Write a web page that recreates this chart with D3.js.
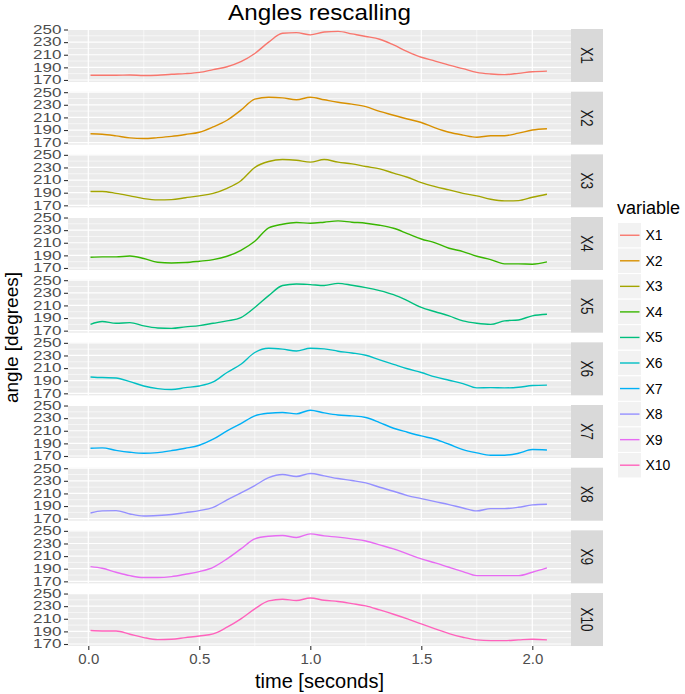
<!DOCTYPE html>
<html><head><meta charset="utf-8">
<script src="https://cdn.jsdelivr.net/npm/d3@7"></script>
<style>body{margin:0;background:#fff;}svg{display:block;font-family:"Liberation Sans",Arial,sans-serif;}</style>
</head><body>
<script>
const times = [0.01,0.0625,0.125,0.1875,0.25,0.3125,0.375,0.4375,0.5,0.5625,0.625,0.6875,0.75,0.8125,0.875,0.9375,1.0,1.0625,1.125,1.1875,1.25,1.3125,1.375,1.4375,1.5,1.5625,1.625,1.6875,1.75,1.8125,1.875,1.9375,2.0,2.066];
const X1 = [177.5,177.5,177.5,178,177,177.5,179,180,182,186.5,191,199,212,230,244,245,241.5,246,247,243,239,234.5,225.5,215,206,200,193.5,188,182,179.5,178.5,180.5,183,184];
const X2 = [184,183.3,180.7,177.5,176.5,178,180,183,186.5,195,205.5,221.5,239,242,241,238,242,238,234,231,227,219.5,213.5,207.5,202,193.5,186.5,182,178.5,181,181,185,190,192];
const X3 = [191.8,192,189,185,180.7,178.6,179,182,185,189,197,209,230,239.4,242.6,241.5,238.4,242.6,238.4,235.7,231.5,227.8,221,214.5,206,199.7,194.4,189,185,179.6,177,177.5,182.8,187.6];
const X4 = [187,187.6,187.6,189,185,179,178,178.6,180.7,183.3,188.6,198,212.4,233.6,239.4,242,241,242.6,244.7,242.6,241,237.8,233,224.6,216,209.8,201.3,196,188.6,183.3,176.5,176.5,176,179.6];
const X5 = [180,184.4,181.7,182.8,177.5,174.3,173.7,176,178,181.7,185.5,190.8,206.8,225.5,241.5,244,243,241.5,245,242,238.3,233.5,227,217.5,206.8,200,193.5,185.5,181.7,180,185.5,187,193.5,196];
const X6 = [196,195,194.4,188.6,181.7,177.5,176,179,181.7,188,203,216,234.7,241.5,240,237,241.5,240.5,236.8,234,230.4,223,216,209,203,196,190.7,185.5,178.6,179,178.6,179.6,182.3,183];
const X7 = [182.3,182.8,179,176,174.3,175.4,178.6,182.3,187,196.6,209.8,221.4,233.6,237.8,239,236.8,242.6,238.4,235,233.6,231,223,214,207.7,201.8,196.6,188.6,180.2,175,171.2,171.2,174.3,180.2,179.6];
const X8 = [179,182.3,182.8,177.5,174.3,175,176.5,179.6,182.8,188,199.7,210.8,222.5,235,240,236.8,241.5,237.8,233.6,230.4,226.7,219.8,213.5,206.6,201.8,197,192.3,187,182.3,186,186,188,191.8,192.8];
const X9 = [193.4,190.7,184.4,179,176,176,177.5,181.2,185.5,192.3,205.6,221.4,237.3,241.5,242.6,239.4,245.2,242,240,237.3,234,227.8,221.4,213.5,205.6,199.2,192.3,185.5,179,179,179,179,184.4,191.3];
const X10 = [191.3,190.7,190.7,185.5,180.2,177,177.5,180.2,182.8,186,196.6,209.8,225.7,238.4,241,239,243,239.4,237.3,234,230.4,224,217.2,209.8,201.8,194,186.5,180.7,176.5,175.4,175.4,176.5,177.5,176.5];
const seriesNames = ["X1","X2","X3","X4","X5","X6","X7","X8","X9","X10"];
const seriesValues = [X1,X2,X3,X4,X5,X6,X7,X8,X9,X10];
const colors = ["#F8766D","#D89000","#A3A500","#39B600","#00BF7D","#00BFC4","#00B0F6","#9590FF","#E76BF3","#FF62BC"];
const yTicks = [170,190,210,230,250];
const yMinor = [180,200,220,240];
const xTicks = [0,0.5,1.0,1.5,2.0];
const xMinor = [0.25,0.75,1.25,1.75];
const xTickLabels = ["0.0","0.5","1.0","1.5","2.0"];

const W = 685, H = 694;
const left = 68, right = 571, stripW = 32;
const top0 = 29, panelH = 53, pitch = 62.67;
const svg = d3.select("body").append("svg").attr("width", W).attr("height", H);

const x = d3.scaleLinear().domain([-0.0914, 2.1743]).range([left, right]);
const y = d3.scaleLinear().domain([166.8, 250.8]).range([panelH, 0]);
const line = d3.line().x((d,i)=>x(times[i])).y(d=>y(d)).curve(d3.curveMonotoneX);

seriesNames.forEach((name, k) => {
  const g = svg.append("g").attr("transform", `translate(0,${top0 + k*pitch})`);
  g.append("rect").attr("x", left).attr("y", 0).attr("width", right-left).attr("height", panelH).attr("fill", "#EBEBEB");
  g.selectAll(".ym").data(yMinor).join("line").attr("x1", left).attr("x2", right).attr("y1", d=>y(d)).attr("y2", d=>y(d)).attr("stroke","#fff").attr("stroke-width",0.6);
  g.selectAll(".xm").data(xMinor).join("line").attr("x1", d=>x(d)).attr("x2", d=>x(d)).attr("y1", 0).attr("y2", panelH).attr("stroke","#fff").attr("stroke-width",0.6);
  g.selectAll(".yM").data(yTicks).join("line").attr("x1", left).attr("x2", right).attr("y1", d=>y(d)).attr("y2", d=>y(d)).attr("stroke","#fff").attr("stroke-width",1.2);
  g.selectAll(".xM").data(xTicks).join("line").attr("x1", d=>x(d)).attr("x2", d=>x(d)).attr("y1", 0).attr("y2", panelH).attr("stroke","#fff").attr("stroke-width",1.2);
  g.append("path").datum(seriesValues[k]).attr("d", line).attr("fill","none").attr("stroke", colors[k]).attr("stroke-width",1.4);
  // y axis
  const ya = d3.axisLeft(y).tickValues(yTicks).tickSize(4).tickPadding(2);
  const ag = g.append("g").attr("transform", `translate(${left},0)`).call(ya);
  ag.select(".domain").remove();
  ag.selectAll("line").attr("stroke","#333").attr("stroke-width",1.1);
  ag.selectAll("text").attr("x", 0).attr("transform","translate(-6.5,0) scale(1.42,1)")
    .attr("fill","#4D4D4D").attr("font-size","12px").attr("font-family","Liberation Sans, Arial, sans-serif");
  // strip
  g.append("rect").attr("x", right).attr("y", 0).attr("width", stripW).attr("height", panelH).attr("fill", "#D9D9D9");
  g.append("text").attr("transform", `translate(${right+stripW/2},${panelH/2}) rotate(90) scale(0.8,1)`).attr("text-anchor","middle").attr("dy","0.36em").attr("font-size","17px").attr("fill","#1A1A1A").text(name);
  if (k === seriesNames.length-1) {
    const xa = d3.axisBottom(x).tickValues(xTicks).tickFormat((d,i)=>xTickLabels[i]).tickSize(4).tickPadding(3);
    const xg = g.append("g").attr("transform", `translate(0,${panelH})`).call(xa);
    xg.select(".domain").remove();
    xg.selectAll("line").attr("stroke","#333").attr("stroke-width",1.1);
    xg.selectAll("text").attr("fill","#4D4D4D").attr("font-size","15px").attr("font-family","Liberation Sans, Arial, sans-serif");
  }
});

svg.append("text").attr("transform", `translate(${(left+right)/2},20) scale(1.1,1)`).attr("text-anchor","middle").attr("font-size","22px").attr("fill","#000").text("Angles rescalling");
svg.append("text").attr("x", (left+right)/2).attr("y", 688).attr("text-anchor","middle").attr("font-size","20px").attr("fill","#000").text("time [seconds]");
svg.append("text").attr("transform", `translate(18,${top0 + (9*pitch+panelH)/2}) rotate(-90)`).attr("text-anchor","middle").attr("font-size","19px").attr("fill","#000").text("angle [degrees]");

// legend
const lg = svg.append("g");
lg.append("text").attr("x", 617).attr("y", 214).attr("font-size","18px").attr("fill","#000").text("variable");
seriesNames.forEach((name,k)=>{
  const ky = 222.5 + k*25.55;
  lg.append("rect").attr("x", 617.5).attr("y", ky).attr("width", 24).attr("height", 25.5).attr("fill","#F2F2F2").attr("stroke","#fff").attr("stroke-width",1);
  lg.append("line").attr("x1", 620).attr("x2", 639.5).attr("y1", ky+12.75).attr("y2", ky+12.75).attr("stroke", colors[k]).attr("stroke-width",1.4);
  lg.append("text").attr("x", 645.5).attr("y", ky+12.75).attr("dy","0.36em").attr("font-size","14px").attr("fill","#000").text(name);
});
</script>
</body></html>
